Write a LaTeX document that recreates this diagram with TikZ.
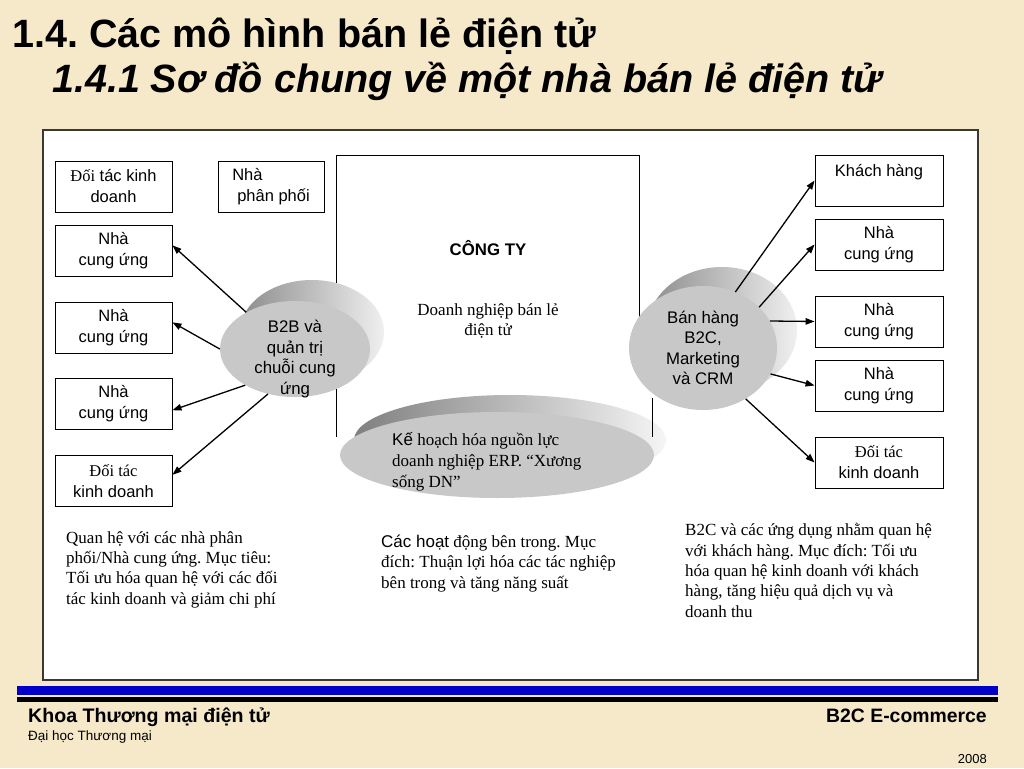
\documentclass[tikz,border=0pt]{standalone}
\usepackage{fontspec}
\setmainfont{Liberation Serif}
\setsansfont{Liberation Sans}
\usetikzlibrary{arrows.meta,shapes.geometric}
\definecolor{bg}{RGB}{246,233,202}
\definecolor{barblue}{RGB}{0,0,200}
\definecolor{diskface}{RGB}{200,200,200}
\definecolor{frame}{RGB}{60,55,50}
\frenchspacing
\begin{document}
\frenchspacing
\begin{tikzpicture}[x=1pt,y=-1pt,
  box/.style={draw=black, line width=0.9pt, fill=white, inner sep=0pt, align=center,
    font=\sffamily\fontsize{16.5}{21}\selectfont},
  lbox/.style={box, minimum width=117pt, minimum height=51pt},
  rbox/.style={box, minimum width=128pt, minimum height=51pt},
  face/.style={ellipse, fill=diskface, draw=none, inner sep=0pt},
  disktext/.style={align=center, font=\sffamily\fontsize{16.8}{20.5}\selectfont},
  serifnote/.style={align=left, anchor=base west, inner sep=0pt,
    font=\rmfamily\fontsize{17}{20.3}\selectfont},
  arr/.style={-{Triangle[length=9pt,width=6.5pt]}, line width=1.3pt},
  wall/.style={line width=0.9pt, draw=black}]
\useasboundingbox (0,0) rectangle (1024,768);
\fill[bg] (0,0) rectangle (1024,768);

% title
\node[anchor=base west, inner sep=0pt, font=\sffamily\bfseries\fontsize{39.5}{40}\selectfont] (t1) at (12,48) {1.4. Các mô hình bán lẻ điện tử};
\node[anchor=base west, inner sep=0pt, font=\sffamily\bfseries\itshape\fontsize{39.5}{40}\selectfont] (t2) at (52,92) {1.4.1 Sơ đồ chung về một nhà bán lẻ điện tử};

% main frame
\draw[draw=frame, line width=1.3pt, fill=white] (43,130) rectangle (978,680);

% company walls (under disks)
\draw[wall] (336,437) -- (336,155) -- (639,155) -- (639,340);

% left boxes
\node[lbox] (b1) at (113.5,186.5) {{\rmfamily Đối} tác kinh\\doanh};
\node[box, minimum width=106pt, minimum height=51pt, align=left] (np) at (271,186.5) {Nhà\\\hspace*{5pt}phân phối};
\node[lbox] (b2) at (113.5,250.5) {Nhà\\cung ứng};
\node[lbox] (b3) at (113.5,327.5) {Nhà\\cung ứng};
\node[lbox] (b4) at (113.5,404) {Nhà\\cung ứng};
\node[lbox] (b5) at (113.5,481) {{\rmfamily Đối tác}\\kinh doanh};

% right boxes
\node[rbox] (k1) at (879,180.5) {Khách hàng\\\mbox{}};
\node[rbox] (k2) at (879,244.5) {Nhà\\cung ứng};
\node[rbox] (k3) at (879,321.5) {Nhà\\cung ứng};
\node[rbox] (k4) at (879,385.5) {Nhà\\cung ứng};
\node[rbox] (k5) at (879,462.5) {{\rmfamily Đối tác}\\kinh doanh};

% company text
\node[font=\sffamily\bfseries\fontsize{16.8}{18}\selectfont] (cty) at (488,248) {CÔNG TY};
\node[align=center, font=\rmfamily\fontsize{17}{20.3}\selectfont] (dn) at (488,321) {Doanh nghiệp bán lẻ\\điện tử};

% B2B disk
\shade[left color=black!45, right color=black!6] (312,332) ellipse [x radius=72, y radius=52];
\node[face, minimum width=150pt, minimum height=96pt] (b2b) at (295,349) {};
\node[disktext] at (295,359) {B2B và\\quản trị\\chuỗi cung\\ứng};

% B2C disk
\shade[left color=black!45, right color=black!6] (722,330) ellipse [x radius=75, y radius=63];
\node[face, minimum width=148pt, minimum height=124pt] (b2c) at (703,348) {};
\node[disktext] at (b2c.center) {Bán hàng\\B2C,\\Marketing\\và CRM};

% ERP disk
\shade[left color=black!50, right color=black!4] (510,440) ellipse [x radius=156, y radius=45];
\node[face, minimum width=314pt, minimum height=86pt] (erp) at (497,455) {};
\node[align=left, anchor=base west, inner sep=0pt, font=\rmfamily\fontsize{17}{20.7}\selectfont] (erpt) at (392,487) {{\sffamily Kế} hoạch hóa nguồn lực\\doanh nghiệp ERP. “Xương\\sống DN”};

\draw[wall] (652,398) -- (652,437);

% arrows left
\draw[arr] (b2b.143) -- (b2.5);
\draw[arr] (b2b.180) -- (b3.5);
\draw[arr] (b2b.216) -- (b4.-6);
\draw[arr] (b2b.239) -- (b5.6);
% arrows right
\draw[arr] (b2c.60) -- (k1.west);
\draw[arr] (b2c.36) -- (k2.west);
\draw[arr] (b2c.22) -- (k3.west);
\draw[arr] (b2c.-21) -- (k4.west);
\draw[arr] (b2c.-50) -- (k5.west);

% notes (base anchor = baseline of last line)
\node[serifnote] (n1) at (66,604) {Quan hệ với các nhà phân\\phối/Nhà cung ứng. Mục tiêu:\\Tối ưu hóa quan hệ với các đối\\tác kinh doanh và giảm chi phí};
\node[serifnote] (n2) at (381,588) {{\sffamily Các hoạt} động bên trong. Mục\\đích: Thuận lợi hóa các tác nghiệp\\bên trong và tăng năng suất};
\node[serifnote] (n3) at (685,617) {B2C và các ứng dụng nhằm quan hệ\\với khách hàng. Mục đích: Tối ưu\\hóa quan hệ kinh doanh với khách\\hàng, tăng hiệu quả dịch vụ và\\doanh thu};

% footer
\fill[barblue] (17,686) rectangle (998,695);
\fill[black] (17,697) rectangle (998,702);
\node[anchor=base west, inner sep=0pt, font=\sffamily\bfseries\fontsize{19.6}{20}\selectfont] (f1) at (28,722) {Khoa Thương mại điện tử};
\node[anchor=base west, inner sep=0pt, font=\sffamily\fontsize{13.5}{14}\selectfont] (f2) at (28,740) {Đại học Thương mại};
\node[anchor=base east, inner sep=0pt, font=\sffamily\bfseries\fontsize{19.4}{20}\selectfont] (f3) at (987,722) {B2C E-commerce};
\node[anchor=base east, inner sep=0pt, font=\sffamily\fontsize{13}{14}\selectfont] (f4) at (987,763) {2008};
\end{tikzpicture}
\end{document}
